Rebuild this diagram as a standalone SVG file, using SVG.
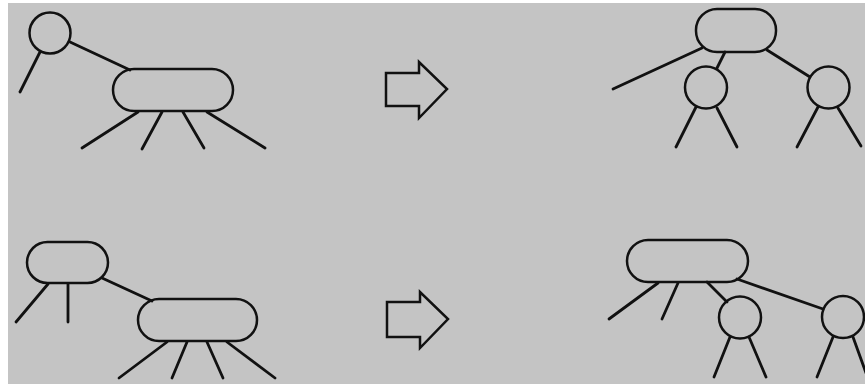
<svg xmlns="http://www.w3.org/2000/svg" width="865" height="384" viewBox="0 0 865 384">
<style>
.n{fill:none;stroke:#111;stroke-width:2.5}
.e{stroke:#111;stroke-width:2.8;stroke-linecap:round;fill:none}
.a{fill:#c4c4c4;stroke:#111;stroke-width:2.5;stroke-linejoin:miter}
</style>
<rect x="0" y="0" width="865" height="384" fill="#ffffff"/>
<rect x="8" y="3" width="857" height="381" fill="#c4c4c4"/>
<g id="edges">
<line class="e" x1="40" y1="52" x2="20" y2="92"/>
<line class="e" x1="70" y1="42" x2="130" y2="70"/>
<line class="e" x1="138" y1="112" x2="82" y2="148"/>
<line class="e" x1="162" y1="112" x2="142" y2="149"/>
<line class="e" x1="183" y1="112" x2="204" y2="148"/>
<line class="e" x1="207" y1="112" x2="265" y2="148"/>
<line class="e" x1="702" y1="48" x2="613" y2="89"/>
<line class="e" x1="725" y1="52" x2="717" y2="68"/>
<line class="e" x1="767" y1="50" x2="810" y2="77"/>
<line class="e" x1="696" y1="107" x2="676" y2="147"/>
<line class="e" x1="717" y1="108" x2="737" y2="147"/>
<line class="e" x1="818" y1="107" x2="797" y2="147"/>
<line class="e" x1="838" y1="108" x2="861" y2="146"/>
<line class="e" x1="48" y1="284" x2="16" y2="322"/>
<line class="e" x1="68" y1="284" x2="68" y2="322"/>
<line class="e" x1="102" y1="278" x2="152" y2="301"/>
<line class="e" x1="167" y1="342" x2="119" y2="378"/>
<line class="e" x1="187" y1="342" x2="172" y2="378"/>
<line class="e" x1="207" y1="342" x2="223" y2="378"/>
<line class="e" x1="227" y1="342" x2="275" y2="378"/>
<line class="e" x1="658" y1="283" x2="609" y2="319"/>
<line class="e" x1="678" y1="283" x2="662" y2="319"/>
<line class="e" x1="707" y1="282" x2="727" y2="302"/>
<line class="e" x1="737" y1="279" x2="823" y2="309"/>
<line class="e" x1="730" y1="337" x2="714" y2="377"/>
<line class="e" x1="749" y1="337" x2="766" y2="377"/>
<line class="e" x1="833" y1="337" x2="817" y2="377"/>
<line class="e" x1="853" y1="337" x2="866" y2="373"/>
</g>
<g id="n1"><circle class="n" cx="50" cy="33" r="20.5"/></g>
<g id="n2"><rect class="n" x="113" y="69" width="120" height="42" rx="21"/></g>
<g id="arrow1"><polygon class="a" points="386,73 419,73 419,62 447,89 419,118 419,106 386,106"/></g>
<g id="n3"><rect class="n" x="696" y="9" width="80" height="43" rx="21"/></g>
<g id="n4"><circle class="n" cx="706" cy="87.5" r="21"/></g>
<g id="n5"><circle class="n" cx="828.5" cy="87.5" r="21"/></g>
<g id="n6"><rect class="n" x="27" y="242" width="81" height="41" rx="20.5"/></g>
<g id="n7"><rect class="n" x="138" y="299" width="119" height="42" rx="21"/></g>
<g id="arrow2"><polygon class="a" points="387,302 420,302 420,292 448,319 420,348 420,337 387,337"/></g>
<g id="n8"><rect class="n" x="627" y="240" width="121" height="42" rx="21"/></g>
<g id="n9"><circle class="n" cx="740" cy="317.5" r="21"/></g>
<g id="n10"><circle class="n" cx="843" cy="317" r="21"/></g>
</svg>
